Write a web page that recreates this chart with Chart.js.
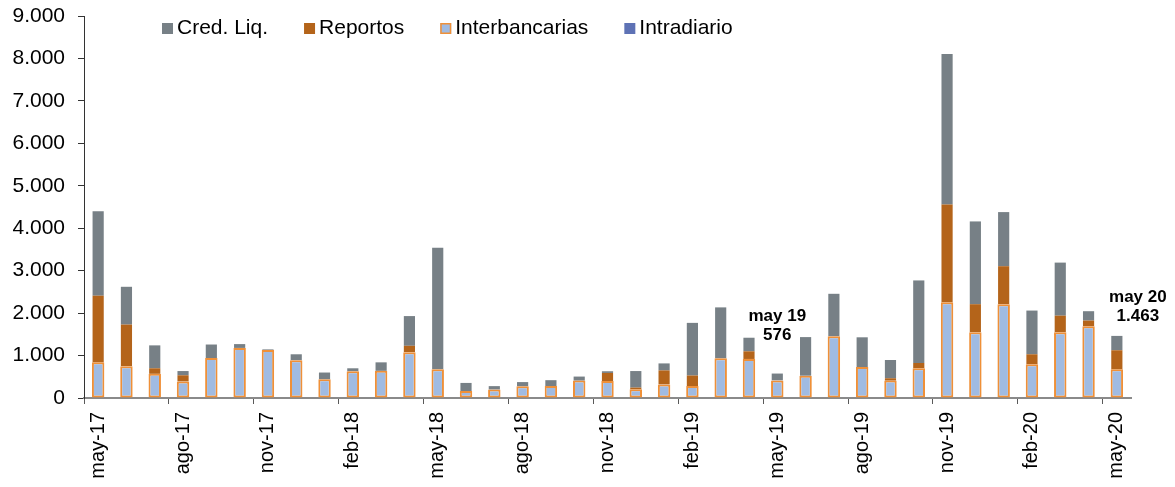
<!DOCTYPE html>
<html>
<head>
<meta charset="utf-8">
<script src="https://cdn.jsdelivr.net/npm/chart.js@4.4.1/dist/chart.umd.min.js"></script>
<style>
  html, body { margin: 0; padding: 0; background: #fff; }
</style>
</head>
<body>
<canvas id="chart" width="1175" height="487"></canvas>
<script>
// months, may-17 .. may-20
const months = ['may-17', 'jun-17', 'jul-17', 'ago-17', 'sep-17', 'oct-17', 'nov-17', 'dic-17',
  'ene-18', 'feb-18', 'mar-18', 'abr-18', 'may-18', 'jun-18', 'jul-18', 'ago-18', 'sep-18', 'oct-18', 'nov-18', 'dic-18',
  'ene-19', 'feb-19', 'mar-19', 'abr-19', 'may-19', 'jun-19', 'jul-19', 'ago-19', 'sep-19', 'oct-19', 'nov-19', 'dic-19',
  'ene-20', 'feb-20', 'mar-20', 'abr-20', 'may-20'];

const interbancarias = [840, 750, 570, 390, 940, 1180, 1130, 890, 440, 630, 640, 1080, 680, 165, 200, 275, 280, 410, 400, 205,
  320, 280, 935, 920, 415, 525, 1455, 730, 410, 700, 2255, 1550, 2210, 795, 1550, 1690, 675];
const reportos = [1570, 980, 130, 145, 0, 0, 0, 0, 0, 0, 0, 150, 0, 0, 0, 0, 0, 0, 190, 40,
  330, 250, 0, 180, 0, 0, 0, 0, 55, 125, 2305, 660, 895, 235, 390, 135, 450];
const credLiq = [1990, 890, 540, 100, 320, 90, 15, 140, 160, 70, 200, 700, 2860, 190, 80, 100, 140, 95, 40, 390,
  165, 1240, 1200, 320, 161, 910, 1000, 700, 430, 1945, 3545, 1950, 1275, 1030, 1250, 220, 338];
const intradiario = months.map(() => 0);

const yTicks = [0, 1000, 2000, 3000, 4000, 5000, 6000, 7000, 8000, 9000];

// callouts over two bars
const notes = [
  { index: 24, label: 'may 19', dx: 0, dy: 38 },
  { index: 36, label: 'may 20', dx: 21, dy: 20 }
];

const FONT = '"Liberation Sans", Arial, sans-serif';

const fmt = v => String(v).replace(/\B(?=(\d{3})+(?!\d))/g, '.');

const legendOrder = [2, 1, 0, 3];

const legendPlugin = {
  id: 'topLegend',
  afterDraw(chart) {
    const ctx = chart.ctx;
    ctx.save();
    ctx.font = '21px ' + FONT;
    ctx.textBaseline = 'middle';
    ctx.textAlign = 'left';
    let x = 162;
    const y = 28;
    legendOrder.forEach(i => {
      const ds = chart.data.datasets[i];
      ctx.fillStyle = ds.backgroundColor;
      ctx.fillRect(x, y - 5, 11, 11);
      if (ds.borderWidth) {
        ctx.strokeStyle = ds.borderColor;
        ctx.lineWidth = 1.5;
        ctx.strokeRect(x + 0.75, y - 4.25, 9.5, 9.5);
      }
      ctx.fillStyle = '#000';
      ctx.fillText(ds.label, x + 15, y);
      x += 15 + ctx.measureText(ds.label).width + 36;
    });
    ctx.restore();
  }
};

const notesPlugin = {
  id: 'notes',
  afterDatasetsDraw(chart) {
    const ctx = chart.ctx;
    const xs = chart.scales.x, ys = chart.scales.y;
    ctx.save();
    ctx.font = 'bold 17px ' + FONT;
    ctx.textAlign = 'center';
    ctx.textBaseline = 'middle';
    ctx.fillStyle = '#000';
    notes.forEach(n => {
      const total = interbancarias[n.index] + reportos[n.index] + credLiq[n.index] + intradiario[n.index];
      const px = xs.getPixelForValue(n.index) + n.dx;
      const py = ys.getPixelForValue(total) - n.dy;
      ctx.fillText(n.label, px, py - 19);
      ctx.fillText(fmt(total), px, py);
    });
    ctx.restore();
  }
};

new Chart(document.getElementById('chart').getContext('2d'), {
  type: 'bar',
  data: {
    labels: months,
    datasets: [
      { label: 'Interbancarias', data: interbancarias, backgroundColor: '#A0BBE2', borderColor: '#EF9038', borderWidth: 2, borderSkipped: false, barPercentage: 0.44 },
      { label: 'Reportos', data: reportos, backgroundColor: '#B4641A', borderWidth: 0 },
      { label: 'Cred. Liq.', data: credLiq, backgroundColor: '#778086', borderWidth: 0 },
      { label: 'Intradiario', data: intradiario, backgroundColor: '#5E72B5', borderWidth: 0 }
    ]
  },
  options: {
    responsive: false,
    animation: false,
    datasets: { bar: { categoryPercentage: 1, barPercentage: 0.395 } },
    layout: { padding: { top: 16, right: 44, left: 0, bottom: 0 } },
    plugins: { legend: { display: false }, tooltip: { enabled: false } },
    scales: {
      x: {
        stacked: true,
        grid: {
          offset: true,
          drawOnChartArea: false,
          drawTicks: true,
          tickLength: 6,
          color: c => (c.index % 3 === 0 ? '#595959' : 'rgba(0,0,0,0)')
        },
        border: { color: '#8a8a8a', width: 2 },
        ticks: {
          autoSkip: false,
          maxRotation: 90,
          minRotation: 90,
          padding: 8,
          color: '#000',
          font: { family: FONT, size: 20 },
          callback: (v, i) => (i % 3 === 0 ? months[i] : '')
        },
        afterFit: s => { s.height = 89; s.paddingLeft = 0; s.paddingRight = 0; }
      },
      y: {
        stacked: true,
        min: 0,
        max: 9000,
        afterBuildTicks: s => { s.ticks = yTicks.map(v => ({ value: v })); },
        grid: { drawOnChartArea: false, drawTicks: true, tickLength: 6, color: '#333' },
        border: { color: '#333', width: 1 },
        ticks: {
          padding: 13,
          color: '#000',
          font: { family: FONT, size: 21 },
          callback: v => fmt(v)
        },
        afterFit: s => { s.width = 84; s.paddingTop = 0; s.paddingBottom = 0; }
      }
    }
  },
  plugins: [legendPlugin, notesPlugin]
});
</script>
</body>
</html>
